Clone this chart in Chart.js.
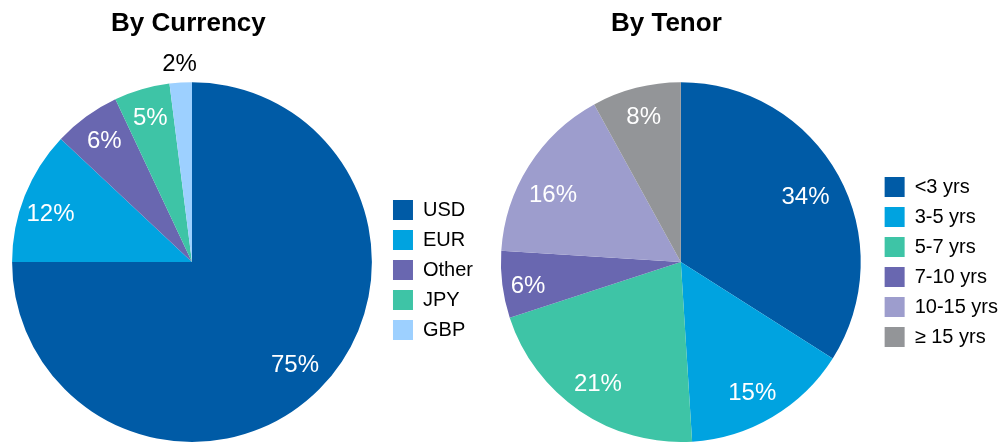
<!DOCTYPE html>
<html>
<head>
<meta charset="utf-8">
<script src="https://cdn.jsdelivr.net/npm/chart.js@4.4.0/dist/chart.umd.min.js"></script>
<style>
  html, body { margin:0; padding:0; background:#fff; overflow:hidden; }
  #wrap { position:relative; width:999px; height:443px; overflow:hidden; }
  .box { position:absolute; top:0; height:443px; }
  #left { left:0; width:483px; }
  #right { left:486px; width:522px; }
</style>
</head>
<body>
<div id="wrap">
  <div class="box" id="left"><canvas id="chart0"></canvas></div>
  <div class="box" id="right"><canvas id="chart1"></canvas></div>
</div>
<script>
var currencyLabels = ['USD', 'EUR', 'Other', 'JPY', 'GBP'];
var currencyValues = [75, 12, 6, 5, 2];
var currencyColors = ['#005BA6', '#00A3E0', '#6967B0', '#3EC4A6', '#9DD0FF'];

var tenorLabels = ['<3 yrs', '3-5 yrs', '5-7 yrs', '7-10 yrs', '10-15 yrs', '\u2265 15 yrs'];
var tenorValues = [34, 15, 21, 6, 16, 8];
var tenorColors = ['#005BA6', '#00A3E0', '#3EC4A6', '#6967B0', '#9D9DCD', '#939598'];

var FONT = 'Arial, "Liberation Sans", sans-serif';

// percent labels on the slices, small ones go outside in black
// radius = fraction of outer radius, nudge = degrees added to mid angle
var pctLabels = {
  id: 'pctLabels',
  afterDatasetsDraw(chart, args, opts) {
    var c = chart.ctx;
    var meta = chart.getDatasetMeta(0);
    var vals = chart.data.datasets[0].data;
    c.save();
    c.font = opts.size + 'px ' + FONT;
    c.textAlign = 'center';
    c.textBaseline = 'middle';
    meta.data.forEach(function(arc, i) {
      var p = arc.getProps(['x', 'y', 'startAngle', 'endAngle', 'outerRadius'], true);
      var mid = (p.startAngle + p.endAngle) / 2 + (opts.nudge[i] || 0) * Math.PI / 180;
      var r = p.outerRadius * opts.radius[i];
      c.fillStyle = opts.radius[i] > 1 ? '#000' : '#fff';
      c.fillText(vals[i] + '%', p.x + Math.cos(mid) * r, p.y + Math.sin(mid) * r);
    });
    c.restore();
  }
};

function makePie(id, title, labels, values, colors, lbl, legendShift) {
  return new Chart(document.getElementById(id), {
    type: 'pie',
    data: {
      labels: labels,
      datasets: [{
        data: values,
        backgroundColor: colors,
        borderWidth: 0
      }]
    },
    plugins: [pctLabels],
    options: {
      responsive: true,
      maintainAspectRatio: false,
      animation: false,
      layout: { padding: { left: 1, right: 0, top: 0, bottom: 1 } },
      plugins: {
        title: {
          display: true,
          text: title,
          fullSize: false,
          color: '#000',
          font: { family: FONT, size: 26, weight: 'bold' },
          padding: { top: 8, bottom: 43 }
        },
        legend: {
          position: 'right',
          fullSize: false,
          labels: {
            boxWidth: 20,
            boxHeight: 20,
            padding: 10,
            color: '#000',
            font: { family: FONT, size: 20 }
          },
          title: {
            display: legendShift > 0,
            text: ' ',
            padding: legendShift,
            font: { family: FONT, size: 10 }
          }
        },
        tooltip: { enabled: false },
        pctLabels: { size: 24, radius: lbl.radius, nudge: lbl.nudge }
      }
    }
  });
}

makePie('chart0', 'By Currency\u00a0', currencyLabels, currencyValues, currencyColors,
  { radius: [0.81, 0.83, 0.83, 0.83, 1.1], nudge: [0, -3, 0, 0, 0] }, 2);
makePie('chart1', 'By Tenor\u00a0\u00a0\u00a0\u00a0', tenorLabels, tenorValues, tenorColors,
  { radius: [0.78, 0.83, 0.82, 0.86, 0.8, 0.83], nudge: [1.5, 2, 0, -2, -5, 0] }, 0);
</script>
</body>
</html>
